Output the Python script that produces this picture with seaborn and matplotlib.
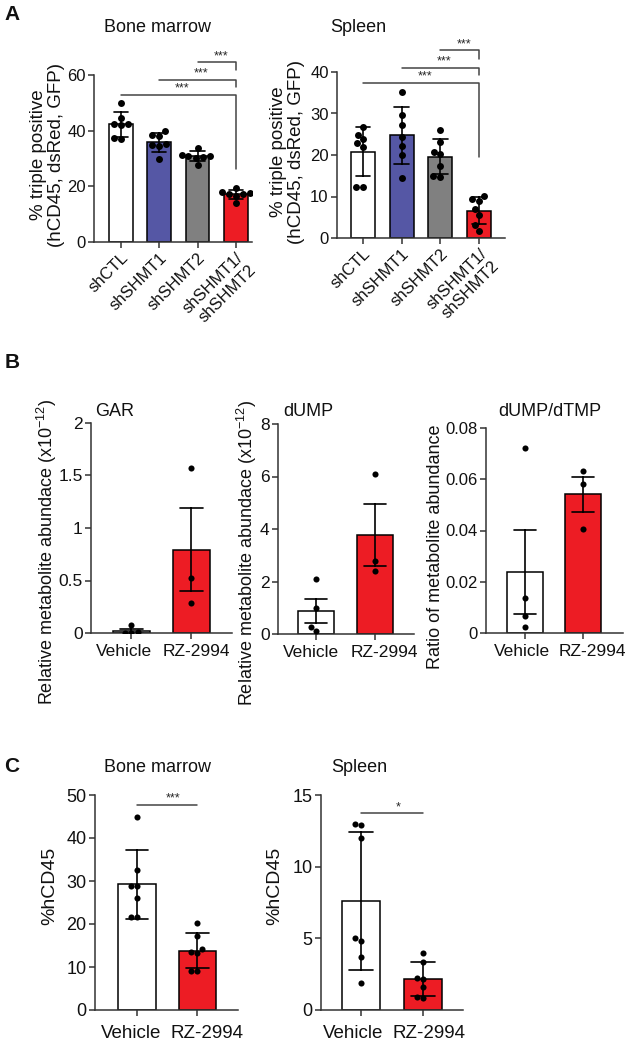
import matplotlib
matplotlib.use("Agg")
import matplotlib.pyplot as plt
from matplotlib.transforms import ScaledTranslation
import seaborn as sns
import pandas as pd

# ---- panel A: % triple positive cells ----
groups_a = ["shCTL", "shSHMT1", "shSHMT2", "shSHMT1/\nshSHMT2"]
colors_a = ["#ffffff", "#5557a5", "#808080", "#ed1c24"]
bm_a = [
    [50.0, 44.5, 42.5, 42.5, 42.0, 37.5, 37.0],
    [39.8, 38.6, 38.2, 35.3, 34.7, 34.4, 29.8],
    [33.8, 31.4, 31.0, 30.8, 30.5, 30.2, 27.8],
    [19.4, 18.0, 17.6, 17.4, 17.2, 16.6, 14.0],
]
spleen_a = [
    [26.8, 24.8, 23.8, 23.0, 22.0, 12.4, 12.4],
    [35.2, 29.6, 27.2, 24.4, 22.2, 20.0, 14.4],
    [26.0, 23.2, 20.8, 20.2, 17.4, 15.0, 14.8],
    [10.2, 9.4, 9.0, 7.0, 5.6, 3.2, 1.8],
]
# comparisons: (from group, to group, bracket height, drop-to height, label)
bm_a_sig = [(0, 3, 52.9, 26.3, "***"), (1, 3, 58.3, 55.7, "***"), (2, 3, 64.5, 61.9, "***")]
spleen_a_sig = [(0, 3, 37.4, 19.6, "***"), (1, 3, 41.0, 39.2, "***"), (2, 3, 45.2, 43.2, "***")]

# ---- panel B: metabolites ----
groups_b = ["Vehicle", "RZ-2994"]
colors_b = ["#ffffff", "#ed1c24"]
gar_b = [[0.08, 0.005, 0.004, 0.0], [1.57, 0.52, 0.29]]
dump_b = [[2.10, 0.98, 0.28, 0.11], [6.11, 2.79, 2.41]]
ratio_b = [[0.0722, 0.0137, 0.0068, 0.0023], [0.0633, 0.0583, 0.0407]]

# ---- panel C: %hCD45 ----
bm_c = [[45.0, 32.6, 28.9, 28.9, 26.0, 21.7, 21.7], [20.3, 17.2, 14.1, 13.6, 13.2, 9.1, 9.1]]
spleen_c = [[12.98, 12.9, 11.98, 5.05, 4.84, 3.7, 1.9], [3.95, 3.37, 2.21, 2.14, 1.63, 0.93, 0.81]]
bm_c_sig = [(0, 1, 47.7, None, "***")]
spleen_c_sig = [(0, 1, 13.74, None, "*")]

sns.set_theme(style="ticks")
plt.rcParams["font.family"] = ["Liberation Sans", "DejaVu Sans"]
plt.rcParams["mathtext.fontset"] = "custom"
plt.rcParams["mathtext.rm"] = "Liberation Sans"
plt.rcParams["mathtext.it"] = "Liberation Sans"
plt.rcParams["axes.linewidth"] = 1.1
plt.rcParams["axes.edgecolor"] = "#333333"

W, H = 633, 1050
fig = plt.figure(figsize=(W / 100, H / 100), dpi=100)


def add_axes(left, right, top, bottom):
    # pixel box -> figure fraction
    return fig.add_axes([left / W, 1 - bottom / H, (right - left) / W, (bottom - top) / H])


def draw_bars(ax, labels, samples, colors, errorbar, dot_size):
    df = pd.DataFrame({
        "group": [g for g, s in zip(labels, samples) for _ in s],
        "value": [v for s in samples for v in s],
    })
    sns.barplot(data=df, x="group", y="value", hue="group", order=labels, hue_order=labels,
                palette=colors, saturation=1, errorbar=errorbar, capsize=0.38, width=0.62,
                edgecolor="black", linewidth=1.1,
                err_kws={"color": "black", "linewidth": 1.2}, legend=False, ax=ax)
    sns.swarmplot(data=df, x="group", y="value", order=labels, color="black",
                  size=dot_size, ax=ax, zorder=4)
    ax.set_xlabel("")


def style(ax, ylim, yticks, yticklabels, xlim, fs, xfs, xpad, ylabel, label_xy, label_fs):
    ax.set_ylim(*ylim)
    ax.set_yticks(yticks)
    ax.set_yticklabels(yticklabels)
    ax.set_xlim(*xlim)
    sns.despine(ax=ax)
    ax.tick_params(axis="both", labelsize=fs, length=4, width=1.1, color="#333333",
                   labelcolor="#111111", pad=2)
    ax.tick_params(axis="x", labelsize=xfs, pad=xpad)
    ax.set_ylabel(ylabel, fontsize=label_fs, color="#111111", linespacing=1.05)
    ax.yaxis.set_label_coords(*label_xy)
    ax.yaxis.label.set_verticalalignment("center")


def shift_xlabels(ax, dxs):
    # nudge category labels sideways (pixels), as in the original layout
    for lab, dx in zip(ax.get_xticklabels(), dxs):
        lab.set_transform(lab.get_transform() + ScaledTranslation(dx / 100, 0, fig.dpi_scale_trans))


def brackets(ax, comps, fs=9):
    for x1, x2, y, drop, txt in comps:
        if drop is None:
            ax.plot([x1, x2], [y, y], color="#444444", lw=1.1, clip_on=False)
        else:
            ax.plot([x1, x2, x2], [y, y, drop], color="#444444", lw=1.1, clip_on=False)
        ax.text((x1 + x2) / 2 + 0.1, y, txt, ha="center", va="bottom", fontsize=fs,
                clip_on=False)


# ---- A ----
ylab_a = "% triple positive\n(hCD45, dsRed, GFP)"
ax = add_axes(94, 252, 75, 242)
draw_bars(ax, groups_a, bm_a, colors_a, "sd", 5.0)
style(ax, (0, 60), [0, 20, 40, 60], ["0", "20", "40", "60"], (-0.7, 3.42), 12, 12, 2,
      ylab_a, (-0.295, 0.52), 13.5)
brackets(ax, bm_a_sig)
axes_a = [ax]

ax = add_axes(337, 505, 72, 238)
draw_bars(ax, groups_a, spleen_a, colors_a, "sd", 5.0)
style(ax, (0, 40), [0, 10, 20, 30, 40], ["0", "10", "20", "30", "40"], (-0.67, 3.67), 12, 12, 2,
      ylab_a, (-0.295, 0.52), 13.5)
brackets(ax, spleen_a_sig)
axes_a.append(ax)

for a in axes_a:
    for t in a.get_xticklabels():
        t.set_rotation(45)
        t.set_ha("right")
        t.set_rotation_mode("anchor")

# ---- B ----
ylab_b = "Relative metabolite abundace (x10$^{\\mathregular{-12}}$)"
ax = add_axes(91, 232, 423, 633)
draw_bars(ax, groups_b, gar_b, colors_b, "se", 4.4)
style(ax, (0, 2), [0, 0.5, 1, 1.5, 2], ["0", "0.5", "1", "1.5", "2"], (-0.67, 1.68), 12.5, 12.5, 4,
      ylab_b, (-0.314, 0.386), 13)
shift_xlabels(ax, [-7, 5])

ax = add_axes(278, 414, 424, 634)
draw_bars(ax, groups_b, dump_b, colors_b, "se", 4.4)
style(ax, (0, 8), [0, 2, 4, 6, 8], ["0", "2", "4", "6", "8"], (-0.64, 1.66), 12.5, 12.5, 4,
      ylab_b, (-0.228, 0.386), 13)
shift_xlabels(ax, [-5, 9])

ax = add_axes(486, 623, 428, 633)
draw_bars(ax, groups_b, ratio_b, colors_b, "se", 4.4)
style(ax, (0, 0.08), [0, 0.02, 0.04, 0.06, 0.08], ["0", "0.02", "0.04", "0.06", "0.08"],
      (-0.67, 1.69), 12, 12.5, 4, "Ratio of metabolite abundance", (-0.37, 0.42), 13)
shift_xlabels(ax, [-3, 9])

# ---- C ----
ax = add_axes(95, 238, 795, 1010)
draw_bars(ax, groups_b, bm_c, colors_b, "sd", 4.4)
style(ax, (0, 50), [0, 10, 20, 30, 40, 50], ["0", "10", "20", "30", "40", "50"],
      (-0.7, 1.68), 13, 13.5, 7, "%hCD45", (-0.315, 0.577), 14)
brackets(ax, bm_c_sig)
shift_xlabels(ax, [-6, 10])

ax = add_axes(321, 463, 795, 1010)
draw_bars(ax, groups_b, spleen_c, colors_b, "sd", 4.4)
style(ax, (0, 15), [0, 5, 10, 15], ["0", "5", "10", "15"], (-0.645, 1.645), 13, 13.5, 7,
      "%hCD45", (-0.324, 0.577), 14)
brackets(ax, spleen_c_sig)
shift_xlabels(ax, [-8, 6])

# ---- titles and panel letters ----
titles = [("Bone marrow", 157, 27), ("Spleen", 358, 27),
          ("GAR", 115, 412), ("dUMP", 308, 412), ("dUMP/dTMP", 550, 412),
          ("Bone marrow", 157, 768), ("Spleen", 359, 768)]
for txt, x, y in titles:
    fig.text(x / W, 1 - y / H, txt, ha="center", va="center", fontsize=13, color="#111111")
for txt, y in [("A", 15), ("B", 363), ("C", 767)]:
    fig.text(12 / W, 1 - y / H, txt, ha="center", va="center", fontsize=15,
             fontweight="bold", color="#111111")

fig.savefig("out.png", dpi=100)
